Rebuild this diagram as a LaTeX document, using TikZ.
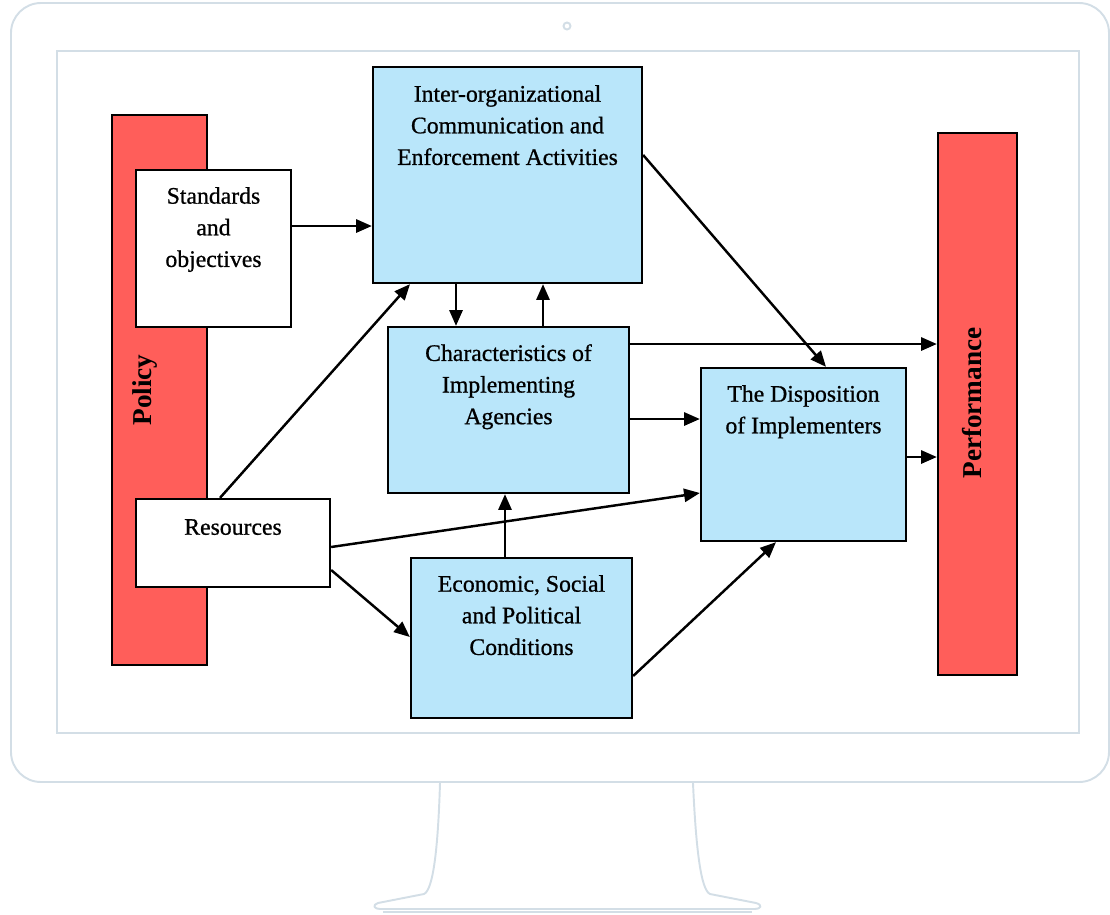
\documentclass[tikz,border=0pt]{standalone}
\usepackage{fontspec}
\setmainfont{Liberation Serif}
\newfontfamily\boxfont[FakeBold=0.8]{Liberation Serif}
\usetikzlibrary{shapes,arrows.meta,positioning,fit}
\definecolor{screen}{HTML}{D3DEE6}
\definecolor{policyred}{HTML}{FF5E5A}
\definecolor{boxblue}{HTML}{B9E6FA}

\begin{document}
\begin{tikzpicture}[x=0.02cm, y=-0.02cm]
  \tikzstyle{frame} = [draw=screen, line width=1.1pt]
  \tikzstyle{bar} = [rectangle, draw=black, line width=1.3pt, fill=policyred, inner sep=0pt]
  \tikzstyle{process} = [rectangle, draw=black, line width=1.3pt, fill=boxblue, inner sep=0pt]
  \tikzstyle{inbox} = [rectangle, draw=black, line width=1.3pt, fill=white, inner sep=0pt]
  \tikzstyle{txt} = [align=center, inner sep=0pt, font=\boxfont\fontsize{13.5}{18}\selectfont]
  \tikzstyle{bartxt} = [rotate=90, inner sep=0pt, font=\fontsize{15.5}{18}\selectfont\bfseries]
  \tikzstyle{arrow} = [line width=1.4pt, -{Triangle[length=9pt,width=7.5pt]}]
  \useasboundingbox (0,0) rectangle (1110,914);

  \draw [frame, rounded corners=0.6cm] (11,3) rectangle (1109,782);
  \draw [frame] (57,51) rectangle (1079,733);
  \draw [frame] (567,26) circle [radius=0.07cm];
  \draw [frame, line join=round] (440,783) .. controls (438,850) and (433,890) .. (424,894) -- (378,903)
    .. controls (372,905) and (374,909) .. (380,909) -- (755,909)
    .. controls (761,909) and (763,905) .. (756,903) -- (710,894)
    .. controls (701,890) and (696,850) .. (693,783);
  \draw [frame] (383,912) -- (752,912);

  \node (policy) [bar, fit={(112,115) (207,665)}] {};
  \node (perf) [bar, fit={(938,133) (1017,675)}] {};
  \node (policy-t) [bartxt] at (145,390) {Policy};
  \node (perf-t) [bartxt] at (972,403) {Performance};

  \node (std) [inbox, fit={(136,170) (291,327)}] {};
  \node (res) [inbox, fit={(136,499) (330,587)}] {};
  \node (ioc) [process, fit={(373,67) (642,283)}] {};
  \node (cia) [process, fit={(388,327) (629,493)}] {};
  \node (dis) [process, fit={(701,368) (906,541)}] {};
  \node (esp) [process, fit={(411,558) (632,718)}] {};

  \node (std-t) [txt, below=0.36cm of std.north] {Standards\\and\\objectives};
  \node (res-t) [txt, below=0.42cm of res.north] {Resources};
  \node (ioc-t) [txt, below=0.38cm of ioc.north] {Inter-organizational\\Communication and\\Enforcement Activities};
  \node (cia-t) [txt, below=0.36cm of cia.north] {Characteristics of\\Implementing\\Agencies};
  \node (dis-t) [txt, below=0.36cm of dis.north] {The Disposition\\of Implementers};
  \node (esp-t) [txt, below=0.36cm of esp.north] {Economic, Social\\and Political\\Conditions};

  \draw [arrow] (std.east |- 0,226) -- (ioc.west |- 0,226);
  \draw [arrow] (res.north -| 220,0) -- (ioc.south -| 410,0);
  \draw [arrow] (ioc.south -| 456,0) -- (cia.north -| 456,0);
  \draw [arrow] (cia.north -| 543,0) -- (ioc.south -| 543,0);
  \draw [arrow] (ioc.east |- 0,155) -- (dis.north -| 826,0);
  \draw [arrow] (cia.east |- 0,344) -- (perf.west |- 0,344);
  \draw [arrow] (cia.east |- 0,419) -- (dis.west |- 0,419);
  \draw [arrow] (res.east |- 0,547) -- (dis.west |- 0,493);
  \draw [arrow] (res.east |- 0,570) -- (esp.west |- 0,637);
  \draw [arrow] (esp.north -| 505,0) -- (cia.south -| 505,0);
  \draw [arrow] (esp.east |- 0,676) -- (dis.south -| 776,0);
  \draw [arrow] (dis.east |- 0,457) -- (perf.west |- 0,457);
\end{tikzpicture}
\end{document}
